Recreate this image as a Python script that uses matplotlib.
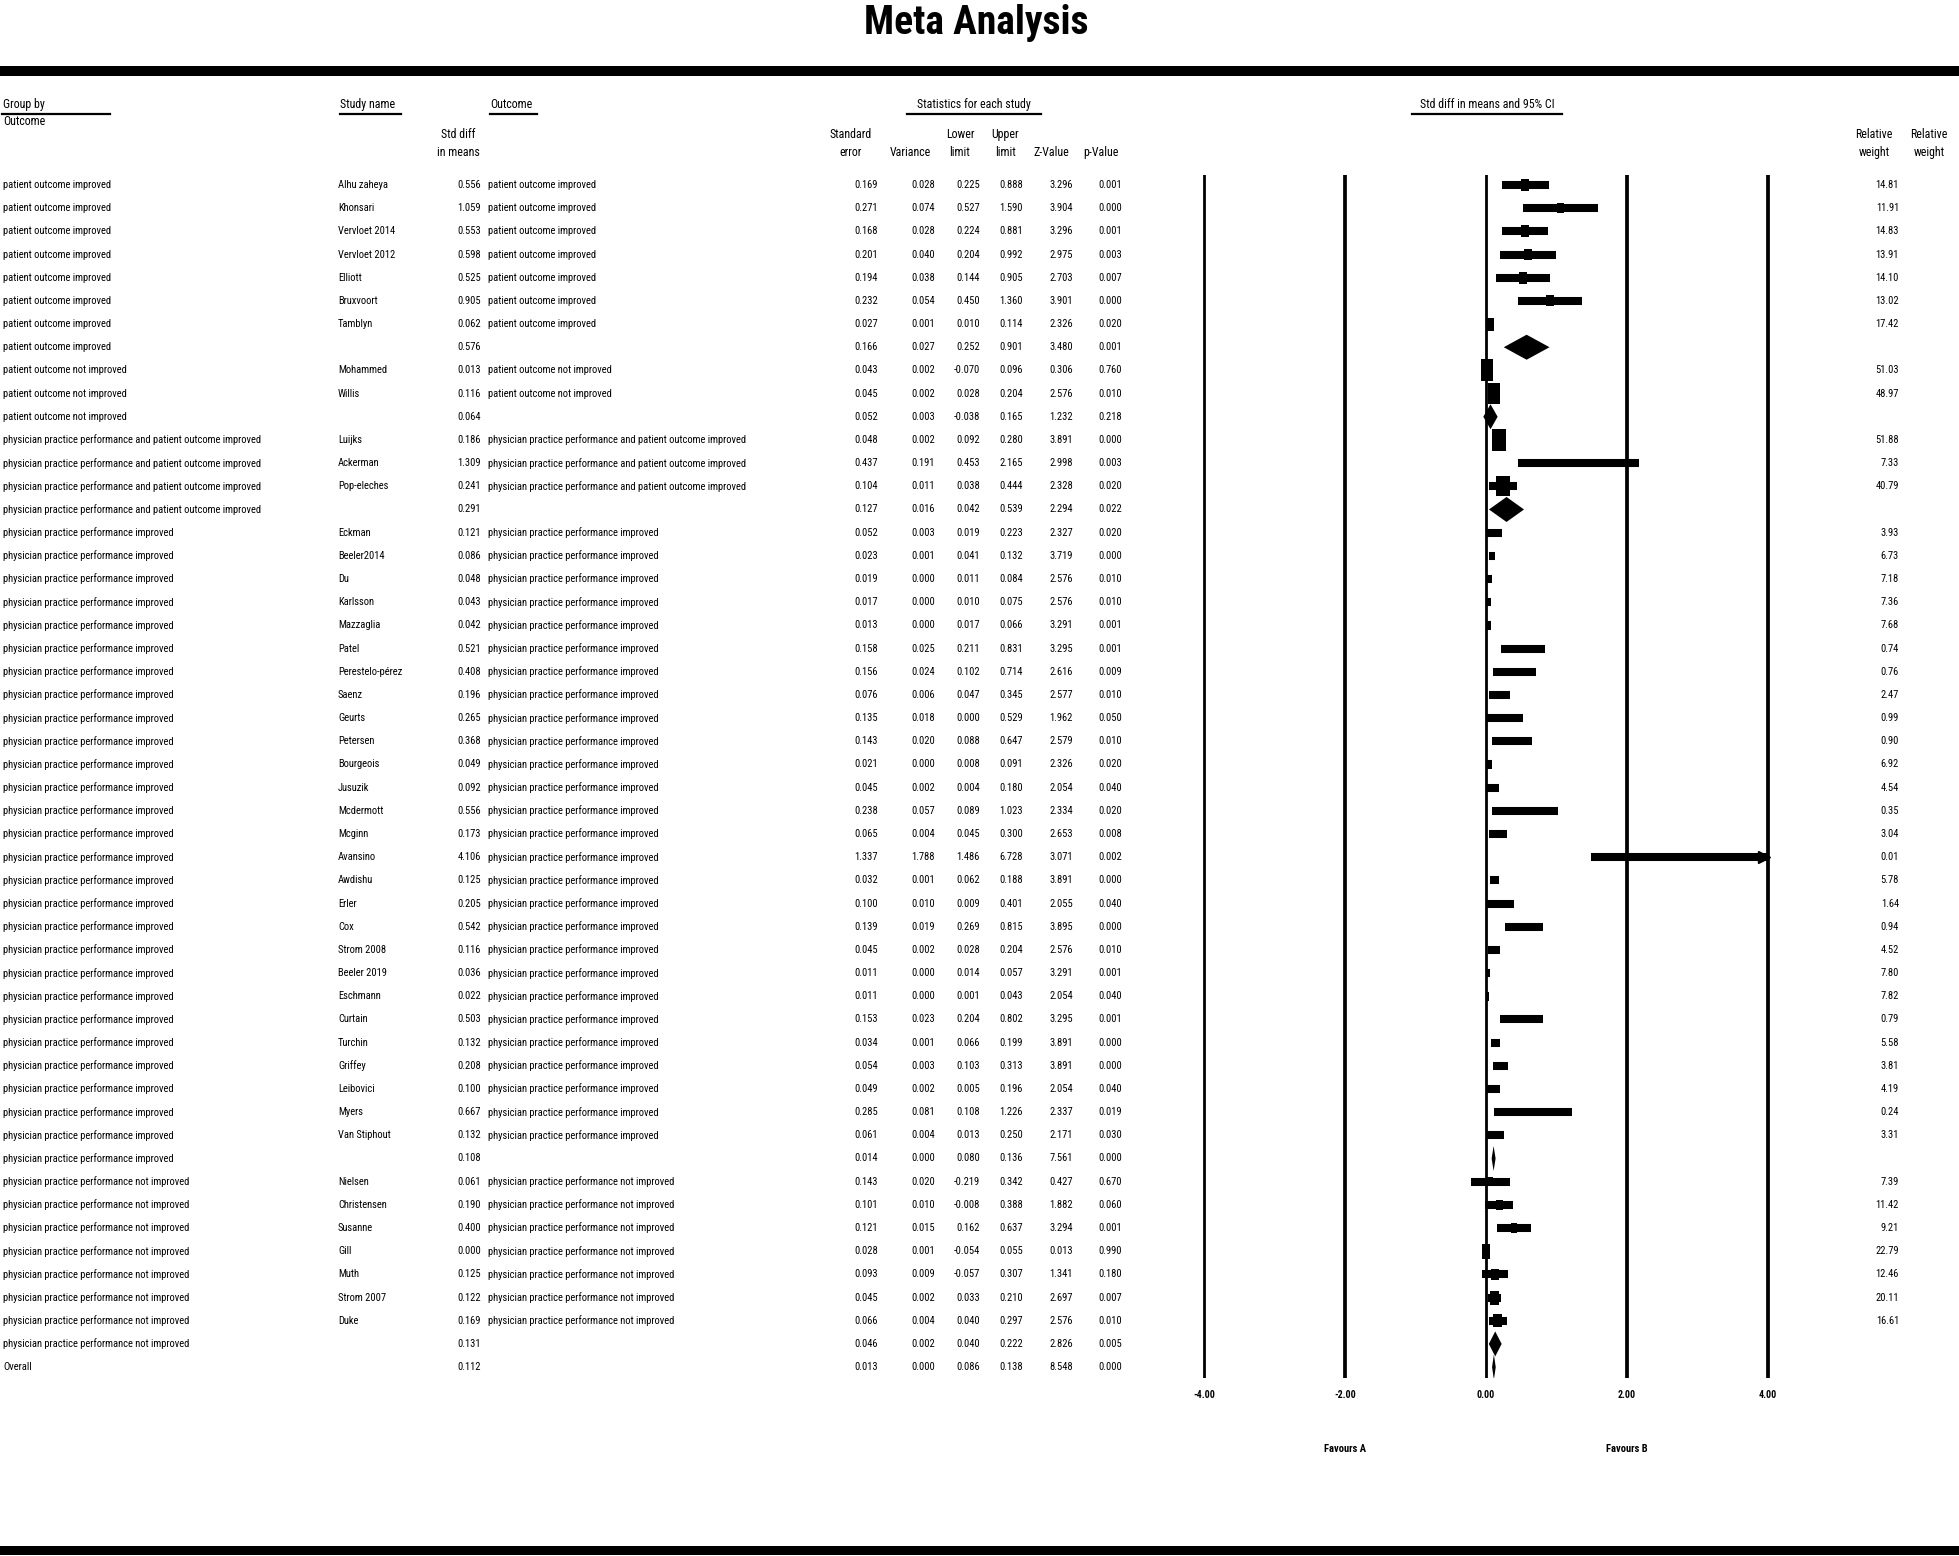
import matplotlib
matplotlib.use('Agg')
import matplotlib.pyplot as plt
from matplotlib import font_manager

# ---- data, one entry per row from top to bottom ('' name = summary row) ----
group_by = (["patient outcome improved"] * 8
            + ["patient outcome not improved"] * 3
            + ["physician practice performance and patient outcome improved"] * 4
            + ["physician practice performance improved"] * 28
            + ["physician practice performance not improved"] * 8
            + ["Overall"])

study_name = ["Alhu zaheya", "Khonsari", "Vervloet 2014", "Vervloet 2012", "Elliott",
              "Bruxvoort", "Tamblyn", "",
              "Mohammed", "Willis", "",
              "Luijks", "Ackerman", "Pop-eleches", "",
              "Eckman", "Beeler2014", "Du", "Karlsson", "Mazzaglia", "Patel",
              "Perestelo-pérez", "Saenz", "Geurts", "Petersen", "Bourgeois", "Jusuzik",
              "Mcdermott", "Mcginn", "Avansino", "Awdishu", "Erler", "Cox", "Strom 2008",
              "Beeler 2019", "Eschmann", "Curtain", "Turchin", "Griffey", "Leibovici",
              "Myers", "Van Stiphout", "",
              "Nielsen", "Christensen", "Susanne", "Gill", "Muth", "Strom 2007", "Duke", "",
              ""]

std_diff = [0.556, 1.059, 0.553, 0.598, 0.525, 0.905, 0.062, 0.576,
            0.013, 0.116, 0.064,
            0.186, 1.309, 0.241, 0.291,
            0.121, 0.086, 0.048, 0.043, 0.042, 0.521, 0.408, 0.196, 0.265, 0.368,
            0.049, 0.092, 0.556, 0.173, 4.106, 0.125, 0.205, 0.542, 0.116, 0.036,
            0.022, 0.503, 0.132, 0.208, 0.100, 0.667, 0.132, 0.108,
            0.061, 0.190, 0.400, 0.000, 0.125, 0.122, 0.169, 0.131,
            0.112]

std_err = [0.169, 0.271, 0.168, 0.201, 0.194, 0.232, 0.027, 0.166,
           0.043, 0.045, 0.052,
           0.048, 0.437, 0.104, 0.127,
           0.052, 0.023, 0.019, 0.017, 0.013, 0.158, 0.156, 0.076, 0.135, 0.143,
           0.021, 0.045, 0.238, 0.065, 1.337, 0.032, 0.100, 0.139, 0.045, 0.011,
           0.011, 0.153, 0.034, 0.054, 0.049, 0.285, 0.061, 0.014,
           0.143, 0.101, 0.121, 0.028, 0.093, 0.045, 0.066, 0.046,
           0.013]

variance = [0.028, 0.074, 0.028, 0.040, 0.038, 0.054, 0.001, 0.027,
            0.002, 0.002, 0.003,
            0.002, 0.191, 0.011, 0.016,
            0.003, 0.001, 0.000, 0.000, 0.000, 0.025, 0.024, 0.006, 0.018, 0.020,
            0.000, 0.002, 0.057, 0.004, 1.788, 0.001, 0.010, 0.019, 0.002, 0.000,
            0.000, 0.023, 0.001, 0.003, 0.002, 0.081, 0.004, 0.000,
            0.020, 0.010, 0.015, 0.001, 0.009, 0.002, 0.004, 0.002,
            0.000]

lower = [0.225, 0.527, 0.224, 0.204, 0.144, 0.450, 0.010, 0.252,
         -0.070, 0.028, -0.038,
         0.092, 0.453, 0.038, 0.042,
         0.019, 0.041, 0.011, 0.010, 0.017, 0.211, 0.102, 0.047, 0.000, 0.088,
         0.008, 0.004, 0.089, 0.045, 1.486, 0.062, 0.009, 0.269, 0.028, 0.014,
         0.001, 0.204, 0.066, 0.103, 0.005, 0.108, 0.013, 0.080,
         -0.219, -0.008, 0.162, -0.054, -0.057, 0.033, 0.040, 0.040,
         0.086]

upper = [0.888, 1.590, 0.881, 0.992, 0.905, 1.360, 0.114, 0.901,
         0.096, 0.204, 0.165,
         0.280, 2.165, 0.444, 0.539,
         0.223, 0.132, 0.084, 0.075, 0.066, 0.831, 0.714, 0.345, 0.529, 0.647,
         0.091, 0.180, 1.023, 0.300, 6.728, 0.188, 0.401, 0.815, 0.204, 0.057,
         0.043, 0.802, 0.199, 0.313, 0.196, 1.226, 0.250, 0.136,
         0.342, 0.388, 0.637, 0.055, 0.307, 0.210, 0.297, 0.222,
         0.138]

z_value = [3.296, 3.904, 3.296, 2.975, 2.703, 3.901, 2.326, 3.480,
           0.306, 2.576, 1.232,
           3.891, 2.998, 2.328, 2.294,
           2.327, 3.719, 2.576, 2.576, 3.291, 3.295, 2.616, 2.577, 1.962, 2.579,
           2.326, 2.054, 2.334, 2.653, 3.071, 3.891, 2.055, 3.895, 2.576, 3.291,
           2.054, 3.295, 3.891, 3.891, 2.054, 2.337, 2.171, 7.561,
           0.427, 1.882, 3.294, 0.013, 1.341, 2.697, 2.576, 2.826,
           8.548]

p_value = [0.001, 0.000, 0.001, 0.003, 0.007, 0.000, 0.020, 0.001,
           0.760, 0.010, 0.218,
           0.000, 0.003, 0.020, 0.022,
           0.020, 0.000, 0.010, 0.010, 0.001, 0.001, 0.009, 0.010, 0.050, 0.010,
           0.020, 0.040, 0.020, 0.008, 0.002, 0.000, 0.040, 0.000, 0.010, 0.001,
           0.040, 0.001, 0.000, 0.000, 0.040, 0.019, 0.030, 0.000,
           0.670, 0.060, 0.001, 0.990, 0.180, 0.007, 0.010, 0.005,
           0.000]

rel_weight = [14.81, 11.91, 14.83, 13.91, 14.10, 13.02, 17.42, None,
              51.03, 48.97, None,
              51.88, 7.33, 40.79, None,
              3.93, 6.73, 7.18, 7.36, 7.68, 0.74, 0.76, 2.47, 0.99, 0.90,
              6.92, 4.54, 0.35, 3.04, 0.01, 5.78, 1.64, 0.94, 4.52, 7.80,
              7.82, 0.79, 5.58, 3.81, 4.19, 0.24, 3.31, None,
              7.39, 11.42, 9.21, 22.79, 12.46, 20.11, 16.61, None,
              None]

x_ticks = [-4, -2, 0, 2, 4]

# ---- fonts: prefer a narrow face, else plain Liberation Sans made smaller ----
installed = {f.name for f in font_manager.fontManager.ttflist}
font_name, k = 'Liberation Sans', 0.82
for name, scale in [('Liberation Sans Narrow', 1.0), ('Arial Narrow', 1.0),
                    ('Roboto Condensed', 0.95)]:
    if name in installed:
        font_name, k = name, scale
        break
plt.rcParams['font.family'] = [font_name, 'DejaVu Sans']
fs_row = 8 * k
fs_head = 9 * k

W, H = 1959, 1556
fig = plt.figure(figsize=(W / 100, H / 100), dpi=100)

# background axes in pixel units for title, bars and headers
bg = fig.add_axes([0, 0, 1, 1])
bg.set_xlim(0, W)
bg.set_ylim(H, 0)
bg.axis('off')

bg.text(976, 23, "Meta Analysis", ha='center', va='center', fontsize=30 * k, fontweight='bold')
bg.axhspan(66, 76, color='black', lw=0)
bg.axhspan(1546, 1555, color='black', lw=0)

def head(x, y, s, ha='left'):
    bg.text(x, y, s, ha=ha, va='center', fontsize=fs_head)

head(3, 104, "Group by")
head(3, 121, "Outcome")
head(340, 104, "Study name")
head(490, 104, "Outcome")
head(974, 104, "Statistics for each study", 'center')
head(1487, 104, "Std diff in means and 95% CI", 'center')
for x0, x1 in [(2, 110), (340, 401), (490, 537), (907, 1041), (1412, 1562)]:
    bg.plot([x0, x1], [114, 114], color='black', lw=1.6)

head(458, 134, "Std diff", 'center')
head(458, 152, "in means", 'center')
head(851, 134, "Standard", 'center')
head(851, 152, "error", 'center')
head(910, 152, "Variance", 'center')
head(960, 134, "Lower", 'center')
head(960, 152, "limit", 'center')
head(1005, 134, "Upper", 'center')
head(1005, 152, "limit", 'center')
head(1051, 152, "Z-Value", 'center')
head(1101, 152, "p-Value", 'center')
for xc in (1874, 1929):
    head(xc, 134, "Relative", 'center')
    head(xc, 152, "weight", 'center')

# ---- table rows ----
n_rows = len(study_name)
ax_rect_y = (1 - 1378 / H, 1203 / H)
ylims = (n_rows - 1 + 0.47, -0.43)

tb = fig.add_axes([0, ax_rect_y[0], 1, ax_rect_y[1]])
tb.set_xlim(0, W)
tb.set_ylim(*ylims)
tb.axis('off')

num_cols = [(481, std_diff), (878, std_err), (935, variance), (980, lower),
            (1023, upper), (1073, z_value), (1122, p_value)]

for i in range(n_rows):
    tb.text(3, i, group_by[i], va='center', fontsize=fs_row)
    if study_name[i]:
        tb.text(338, i, study_name[i], va='center', fontsize=fs_row)
        tb.text(488, i, group_by[i], va='center', fontsize=fs_row)
    for x, col in num_cols:
        tb.text(x, i, f"{col[i]:.3f}", ha='right', va='center', fontsize=fs_row)
    if rel_weight[i] is not None:
        tb.text(1899, i, f"{rel_weight[i]:.2f}", ha='right', va='center', fontsize=fs_row)

# ---- forest plot ----
px_unit = 70.5          # pixels per unit of std diff
px_row = 1203 / (ylims[0] - ylims[1])
x_min, x_max = -4.3, 4.3
fx = fig.add_axes([(1486 + x_min * px_unit) / W, ax_rect_y[0],
                   (x_max - x_min) * px_unit / W, ax_rect_y[1]])
fx.set_xlim(x_min, x_max)
fx.set_ylim(*ylims)
fx.patch.set_alpha(0)
for s in fx.spines.values():
    s.set_visible(False)
fx.set_yticks([])
fx.set_xticks(x_ticks)
fx.set_xticklabels([f"{t:.2f}" for t in x_ticks], fontsize=7.5 * k, fontweight='bold')
fx.tick_params(axis='x', length=0, pad=9)

for t, lw in zip(x_ticks, [2.0, 2.7, 2.0, 2.7, 2.7]):
    fx.axvline(t, color='black', lw=lw)

for i in range(n_rows):
    d, lo, hi = std_diff[i], lower[i], upper[i]
    if study_name[i]:
        fx.plot([lo, min(hi, x_ticks[-1])], [i, i], color='black', lw=5.8,
                solid_capstyle='butt')
        if hi > x_ticks[-1]:
            fx.plot(x_ticks[-1] - 0.06, i, marker='>', ms=8, color='black')
        side = 3.1 * rel_weight[i] ** 0.5
        if d <= x_ticks[-1]:
            bw = min(side * 0.7, (hi - lo) * px_unit) / px_unit
            fx.barh(i, bw, left=d - bw / 2, height=side / px_row, color='black')
    else:
        h = 12.5 / px_row
        fx.fill([lo, d, hi, d], [i, i - h, i, i + h], color='black', lw=0)

fx.text(-2, -(1449 - 1378) / 1203, "Favours A", transform=fx.get_xaxis_transform(),
        ha='center', va='center', fontsize=8 * k, fontweight='bold')
fx.text(2, -(1449 - 1378) / 1203, "Favours B", transform=fx.get_xaxis_transform(),
        ha='center', va='center', fontsize=8 * k, fontweight='bold')

fig.savefig("out.png", dpi=100)
